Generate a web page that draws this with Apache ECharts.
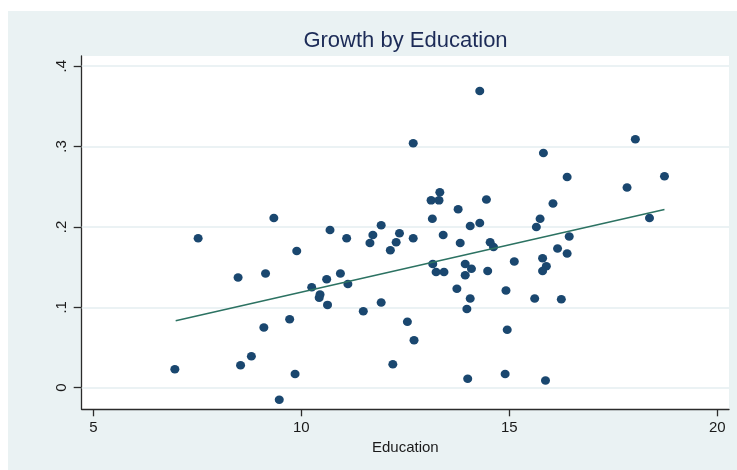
<!DOCTYPE html>
<html>
<head>
<meta charset="utf-8">
<script src="https://cdn.jsdelivr.net/npm/echarts@6/dist/echarts.min.js"></script>
<style>
  html, body { margin: 0; padding: 0; background: #ffffff; }
  #chart { position: absolute; left: 8px; top: 11px; width: 729px; height: 459px; }
</style>
</head>
<body>
<div id="chart"></div>
<script>
// Years of education per country
const education = [
  6.96, 7.52, 8.48, 9.14, 9.34, 9.89, 8.54, 8.80, 9.10, 9.72,
  9.85, 9.47, 10.25, 10.45, 10.43, 10.61, 10.63, 10.69, 10.94, 11.09,
  11.12, 11.49, 11.65, 11.72, 11.92, 11.92, 12.14, 12.28, 12.36, 12.20,
  12.55, 12.69, 12.71, 13.15, 13.77, 14.06, 14.29, 13.41, 13.82, 13.16,
  13.24, 13.43, 13.94, 14.09, 13.94, 14.48, 14.54, 14.62, 13.74, 14.06,
  13.98, 14.92, 15.12, 14.95, 14.00, 14.90, 15.87, 15.61, 16.25, 15.65,
  15.74, 16.05, 15.80, 15.89, 15.80, 16.16, 16.39, 16.44, 18.37, 14.29,
  12.69, 15.82, 18.03, 16.39, 18.73, 17.83, 13.12, 13.31, 13.33, 14.45
];
// Growth rate per country (same order)
const growth = [
  0.023, 0.186, 0.137, 0.142, 0.211, 0.170, 0.028, 0.039, 0.075, 0.085,
  0.017, -0.015, 0.125, 0.116, 0.112, 0.135, 0.103, 0.196, 0.142, 0.186,
  0.129, 0.095, 0.180, 0.190, 0.202, 0.106, 0.171, 0.181, 0.192, 0.029,
  0.082, 0.186, 0.059, 0.210, 0.222, 0.201, 0.205, 0.190, 0.180, 0.154,
  0.144, 0.144, 0.154, 0.148, 0.140, 0.145, 0.181, 0.175, 0.123, 0.111,
  0.098, 0.121, 0.157, 0.072, 0.011, 0.017, 0.009, 0.111, 0.110, 0.200,
  0.210, 0.229, 0.161, 0.151, 0.145, 0.173, 0.167, 0.188, 0.211, 0.369,
  0.304, 0.292, 0.309, 0.262, 0.263, 0.249, 0.233, 0.233, 0.243, 0.234
];
// Fitted values line endpoints
const fitX = [6.98, 18.73];
const fitY = [0.0832, 0.2216];

const xTicks = [5, 10, 15, 20];
const yTicks = [0, 0.1, 0.2, 0.3, 0.4];

const points = education.map((x, i) => [x, growth[i]]);
const fitLine = fitX.map((x, i) => [x, fitY[i]]);

const FONT = '"Liberation Sans", Arial, sans-serif';
const chart = echarts.init(document.getElementById('chart'), null, { renderer: 'canvas' });

chart.setOption({
  backgroundColor: '#eaf2f3',
  animation: false,
  graphic: [
    { type: 'rect', z: -1, shape: { x: 73.7, y: 45, width: 647.3, height: 353.3 }, style: { fill: '#ffffff' } },
    {
      type: 'text', x: 397.5, y: 30,
      style: { text: 'Growth by Education', fill: '#1c2b57', font: '22px ' + FONT, textAlign: 'center', textVerticalAlign: 'middle' }
    }
  ],
  grid: { left: 73.7, top: 45, width: 647.3, height: 353.3, containLabel: false },
  xAxis: {
    type: 'value', min: 4.721, max: 20.281,
    axisLine: { show: true, onZero: false, lineStyle: { color: '#2b2b2b', width: 1.3 } },
    axisTick: { show: true, length: 7, customValues: xTicks, lineStyle: { color: '#2b2b2b', width: 1.3 } },
    axisLabel: { customValues: xTicks, margin: 11, color: '#1a1a1a', fontSize: 15, fontFamily: FONT },
    splitLine: { show: false },
    name: 'Education', nameLocation: 'middle', nameGap: 29,
    nameTextStyle: { color: '#1a1a1a', fontSize: 15, fontFamily: FONT }
  },
  yAxis: {
    type: 'value', min: -0.0269, max: 0.4126,
    axisLine: { show: true, onZero: false, lineStyle: { color: '#2b2b2b', width: 1.3 } },
    axisTick: { show: true, length: 8, customValues: yTicks, lineStyle: { color: '#2b2b2b', width: 1.3 } },
    axisLabel: {
      customValues: yTicks, rotate: 90, margin: 12, color: '#1a1a1a', fontSize: 15, fontFamily: FONT,
      formatter: v => (Math.abs(v) < 1e-9 ? '0' : String(+v.toFixed(1)).replace(/^0/, ''))
    },
    splitLine: { show: false }
  },
  series: [
    {
      // horizontal grid lines at the labelled growth values
      type: 'line', data: [], z: 1, silent: true,
      markLine: {
        z: 1, silent: true, symbol: 'none', label: { show: false },
        lineStyle: { color: '#e4eef0', width: 1.5, type: 'solid' },
        data: yTicks.map(v => ({ yAxis: v }))
      }
    },
    {
      type: 'scatter', data: points, z: 2,
      symbol: 'circle', symbolSize: [9, 8.5],
      itemStyle: { color: '#1a476f', opacity: 1 }
    },
    {
      type: 'line', data: fitLine, z: 3, symbol: 'none',
      lineStyle: { color: '#2c7262', width: 1.5 }
    }
  ]
});
</script>
</body>
</html>
